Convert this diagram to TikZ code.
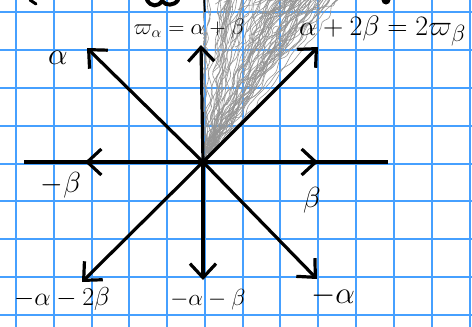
\documentclass[tikz,border=0pt]{standalone}
\usetikzlibrary{arrows.meta,decorations.pathmorphing}
\definecolor{gridblue}{RGB}{70,160,255}
\definecolor{scrib}{RGB}{150,150,150}
\begin{document}
\begin{tikzpicture}[x=1pt,y=-1pt,
  gridline/.style={draw=gridblue,line width=1.8pt},
  axisline/.style={line width=3.2pt},
  root/.style={line width=3.2pt,-{Straight Barb[length=14pt,width=26pt]}},
  scribble/.style={draw=scrib,line width=0.6pt,decorate,
     decoration={random steps,segment length=10pt,amplitude=4.5pt},rounded corners=3pt},
  lab/.style={inner sep=0pt,font=\fontsize{20.74}{24}\selectfont},
  biglab/.style={inner sep=0pt,font=\fontsize{24.88}{28}\selectfont}]
\useasboundingbox (0,0) rectangle (472,327);
\fill[white] (0,0) rectangle (472,327);
% grid
\foreach \gx in {16,54,92,129,167,205,243,280,318,356,394,432,470}
  \draw[gridline] (\gx,0) -- ++(0,327);
\foreach \gy in {12,50,88,126,164,201,239,277,315}
  \draw[gridline] (0,\gy) -- ++(472,0);
% shaded wedge
\begin{scope}
\clip (203,162) -- (203,-20) -- (387,-20) -- cycle;
\pgfmathsetseed{11}
\foreach \i in {1,...,50}{
  \pgfmathsetmacro\tx{204+140*rnd^1.2}
  \pgfmathsetmacro\sx{203+10*rnd}
  \pgfmathsetmacro\sy{162-14*rnd}
  \pgfmathsetmacro\mx{0.5*(\sx+\tx)+10*(rnd-0.5)}
  \pgfmathsetmacro\my{90*rnd}
  \draw[scribble] (\sx,\sy) -- (\tx,-5) -- (\mx,\my);
}
\end{scope}
% points
\coordinate (O) at (203,162);
\coordinate (b) at (318,162);
\coordinate (mb) at (85,162);
\coordinate (bext) at (388,162);
\coordinate (mbext) at (24,162);
\coordinate (a) at (87,48);
\coordinate (ma) at (317,279);
\coordinate (apb) at (201,45);
\coordinate (mapb) at (203,280);
\coordinate (a2b) at (318,47);
\coordinate (ma2b) at (82,282);
% axes
\draw[axisline] (mbext) -- (bext);
\draw[root] (O) -- (b);
\draw[root] (O) -- (mb);
\draw[root] (O) -- (a);
\draw[root] (O) -- (ma);
\draw[root] (O) -- (apb);
\draw[root] (O) -- (mapb);
\draw[root] (O) -- (a2b);
\draw[root] (O) -- (ma2b);
% labels
\node[lab,scale=1.5] (la) at (58,58) {$\alpha$};
\node[lab,scale=1.4] (lmb) at (61,185) {$-\beta$};
\node[lab,scale=1.4] (lb) at (312,200) {$\beta$};
\node[lab,scale=1.25] (lma2b) at (62,299) {$-\alpha-2\beta$};
\node[lab,scale=1.12] (lmapb) at (208,300) {$-\alpha-\beta$};
\node[lab,scale=1.5] (lma) at (333,296) {$-\alpha$};
\node[lab,scale=1.08] (lw) at (189,29) {$\varpi_\alpha=\alpha+\beta$};
\node[biglab,scale=1.13,anchor=west] (lw2) at (299,31) {$\alpha+2\beta=2\varpi_\beta$};
% cut-off strokes at top edge
\draw[line width=3pt,line cap=round] (30,0) -- (36,4);
\draw[line width=4pt,line cap=round] (147,0) .. controls (151,7) and (158,7) .. (162,1) .. controls (166,6) and (174,6) .. (178,0);
\draw[line width=1.5pt] (204,0) -- (205,12);
\fill (386,0) circle (4.5);
\end{tikzpicture}
\end{document}
